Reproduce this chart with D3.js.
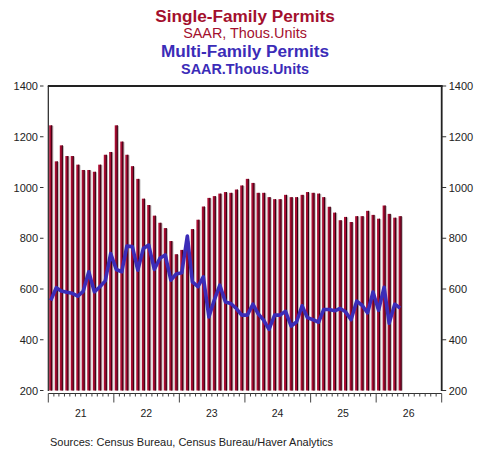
<!DOCTYPE html>
<html><head><meta charset="utf-8">
<script src="https://cdn.jsdelivr.net/npm/d3@7"></script>
<style>body{margin:0;background:#fff}svg{display:block}text{font-family:"Liberation Sans",Arial,sans-serif}</style>
</head><body>
<svg id="c" width="485" height="451"></svg>
<script>
const startMonth = "2021-01";
const singleFamily = [1245,1103,1166,1124,1124,1090,1069,1069,1062,1090,1129,1140,
 1245,1181,1129,1084,1034,956,931,889,861,840,789,737,
 754,790,836,873,925,959,966,976,982,979,992,1008,
 1034,1018,979,979,962,954,954,971,962,962,971,982,
 979,976,962,924,901,871,884,864,887,887,908,892,
 877,929,896,881,887];
const multiFamily = [555,605,592,587,583,572,591,668,589,608,632,740,
 677,668,769,767,674,760,773,677,721,734,635,659,
 664,809,628,609,648,490,556,615,549,543,523,497,
 497,540,503,477,441,497,497,512,454,470,534,487,
 479,469,519,519,514,523,510,479,552,536,506,588,
 516,607,465,540,525];
const yTicks = [200,400,600,800,1000,1200,1400];
const yearLabels = ["21","22","23","24","25","26"];
const titles = ["Single-Family Permits","SAAR, Thous.Units","Multi-Family Permits","SAAR.Thous.Units"];
const sourceText = "Sources:  Census Bureau, Census Bureau/Haver Analytics";

const svg = d3.select("#c");
const L = 48.3, R = 441.7, T = 86, B = 390.5, AX = 393.5;
const parse = d3.timeParse("%Y-%m");
const d0 = parse(startMonth);
const months = singleFamily.map((_, i) => d3.timeMonth.offset(d0, i));
const x = d3.scaleTime().domain([new Date(2021,0,1), new Date(2027,0,1)]).range([L, R]);
const y = d3.scaleLinear().domain([200,1400]).range([B, T]);
const bw = 3;
const bx = d => x(d) + 0.9;

// titles
const tc = (L + R) / 2;
const red = "#a30f2d", blue = "#3b2cb8";
svg.append("text").attr("x", tc).attr("y", 21.6).attr("text-anchor","middle").attr("font-size",17.2).attr("font-weight","bold").attr("fill",red).text(titles[0]);
svg.append("text").attr("x", tc).attr("y", 38.3).attr("text-anchor","middle").attr("font-size",14.4).attr("fill",red).text(titles[1]);
svg.append("text").attr("x", tc).attr("y", 57).attr("text-anchor","middle").attr("font-size",17.2).attr("font-weight","bold").attr("fill",blue).text(titles[2]);
svg.append("text").attr("x", tc).attr("y", 73.7).attr("text-anchor","middle").attr("font-size",14.4).attr("font-weight","bold").attr("fill",blue).text(titles[3]);

// bars: shadow, body, dark edge
const g = svg.append("g");
g.selectAll("rect.sh").data(singleFamily).join("rect").attr("class","sh")
  .attr("x",(d,i)=>bx(months[i])+1.2).attr("width",bw).attr("y",d=>y(d)+0.5).attr("height",d=>B-y(d)-0.5).attr("fill","#bdbdbd");
g.selectAll("rect.b").data(singleFamily).join("rect").attr("class","b")
  .attr("x",(d,i)=>bx(months[i])).attr("width",bw).attr("y",d=>y(d)).attr("height",d=>B-y(d)).attr("fill","#a80d32");
g.selectAll("rect.e").data(singleFamily).join("rect").attr("class","e")
  .attr("x",(d,i)=>bx(months[i])+bw-1).attr("width",1).attr("y",d=>y(d)).attr("height",d=>B-y(d)).attr("fill","#2e0010");

// line
const line = d3.line().x((d,i)=>bx(months[i])+bw/2).y(d=>y(d));
svg.append("path").datum(multiFamily).attr("d",line).attr("fill","none").attr("stroke",blue).attr("stroke-width",3.6).attr("stroke-linejoin","round");

// frame
const fc = "#222";
svg.append("line").attr("x1",L-0.5).attr("x2",R+1).attr("y1",T).attr("y2",T).attr("stroke",fc).attr("stroke-width",2);
svg.append("line").attr("x1",L).attr("x2",L).attr("y1",T).attr("y2",B+0.5).attr("stroke",fc).attr("stroke-width",1.2);
svg.append("line").attr("x1",R).attr("x2",R).attr("y1",T).attr("y2",B+0.5).attr("stroke",fc).attr("stroke-width",1.8);

// y axes
const ya = svg.append("g");
yTicks.forEach(v => {
  ya.append("line").attr("x1",40).attr("x2",43.5).attr("y1",y(v)).attr("y2",y(v)).attr("stroke","#333").attr("stroke-width",1);
  ya.append("text").attr("x",38).attr("y",y(v)+4).attr("text-anchor","end").attr("font-size",11).attr("fill","#222").text(v);
  ya.append("line").attr("x1",R).attr("x2",R+4.5).attr("y1",y(v)).attr("y2",y(v)).attr("stroke","#333").attr("stroke-width",1);
  ya.append("text").attr("x",R+7).attr("y",y(v)+4).attr("text-anchor","start").attr("font-size",11).attr("fill","#222").text(v);
});

// x axis
const xa = svg.append("g");
xa.append("line").attr("x1",L).attr("x2",R).attr("y1",AX).attr("y2",AX).attr("stroke","#333").attr("stroke-width",1.2);
const allMonths = d3.timeMonth.range(new Date(2021,0,1), new Date(2027,0,2));
allMonths.forEach(m => {
  const len = m.getMonth() === 0 ? 9 : 3;
  xa.append("line").attr("x1",x(m)).attr("x2",x(m)).attr("y1",AX).attr("y2",AX+len).attr("stroke","#444").attr("stroke-width",1);
});
yearLabels.forEach((lab, i) => {
  const mid = new Date(2021+i, 6, 1);
  xa.append("text").attr("x",x(mid)).attr("y",417).attr("text-anchor","middle").attr("font-size",10.5).attr("fill","#222").text(lab);
});

svg.append("text").attr("x",50).attr("y",446).attr("font-size",11).attr("fill","#222").text(sourceText);
</script>
</body></html>
